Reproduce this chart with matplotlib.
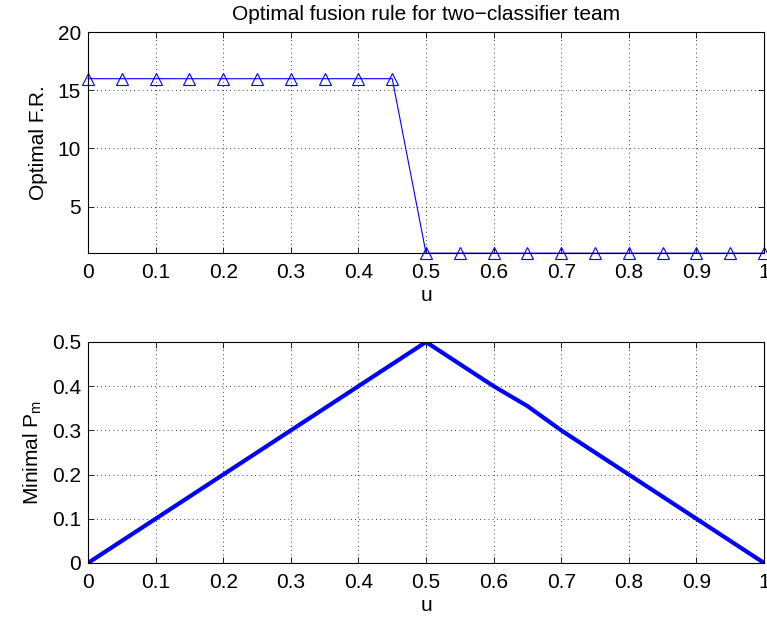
import matplotlib
matplotlib.use("Agg")
import matplotlib.pyplot as plt
import matplotlib.ticker as mticker

plt.rcParams['font.family'] = ['Liberation Sans', 'DejaVu Sans']
plt.rcParams['mathtext.fontset'] = 'custom'
plt.rcParams['mathtext.rm'] = 'Liberation Sans'
plt.rcParams['mathtext.it'] = 'Liberation Sans'

# u values (shared x axis)
u = [0.0, 0.05, 0.1, 0.15, 0.2, 0.25, 0.3, 0.35, 0.4, 0.45, 0.5,
     0.55, 0.6, 0.65, 0.7, 0.75, 0.8, 0.85, 0.9, 0.95, 1.0]

# optimal fusion rule index
fusion_rule = [16, 16, 16, 16, 16, 16, 16, 16, 16, 16, 1,
               1, 1, 1, 1, 1, 1, 1, 1, 1, 1]

# minimal miss probability
min_pm = [0.0, 0.05, 0.1, 0.15, 0.2, 0.25, 0.3, 0.35, 0.4, 0.45, 0.5,
          0.45, 0.4, 0.355, 0.3, 0.25, 0.2, 0.15, 0.1, 0.05, 0.0]

xticks = [0, 0.1, 0.2, 0.3, 0.4, 0.5, 0.6, 0.7, 0.8, 0.9, 1]
fs = 15

fig = plt.figure(figsize=(7.67, 6.19), dpi=100)
ax1 = fig.add_axes([0.1147, 0.591, 0.8815, 0.357])
ax2 = fig.add_axes([0.1147, 0.0905, 0.8815, 0.357])


def style(ax):
    ax.set_xlim(0, 1)
    ax.set_xticks(xticks)
    ax.xaxis.set_major_formatter(mticker.FormatStrFormatter('%g'))
    ax.yaxis.set_major_formatter(mticker.FormatStrFormatter('%g'))
    ax.tick_params(direction='in', top=True, right=True, labelsize=fs, length=4, width=0.6)
    ax.tick_params(axis='x', pad=7)
    ax.tick_params(axis='y', pad=5)
    ax.grid(True, color='black', linestyle=(0, (1, 4)), linewidth=0.6)
    for s in ax.spines.values():
        s.set_linewidth(0.8)
    ax.set_xlabel('u', fontsize=fs, labelpad=3)


ax1.plot(u, fusion_rule, color='blue', linewidth=0.8, marker='^', markersize=8,
         markerfacecolor='none', markeredgecolor='blue', markeredgewidth=0.8, clip_on=False)
ax1.set_ylim(1, 20)
ax1.set_yticks([5, 10, 15, 20])
style(ax1)
ax1.set_ylabel('Optimal F.R.', fontsize=fs, labelpad=7)
ax1.set_title('Optimal fusion rule for two\u2212classifier team', fontsize=fs, pad=9)

ax2.plot(u, min_pm, color='blue', linewidth=3)
ax2.set_ylim(0, 0.5)
ax2.set_yticks([0, 0.1, 0.2, 0.3, 0.4, 0.5])
style(ax2)
ax2.set_ylabel('Minimal P$_{\\mathrm{m}}$', fontsize=fs, labelpad=6)

fig.savefig('out.png', dpi=100)
